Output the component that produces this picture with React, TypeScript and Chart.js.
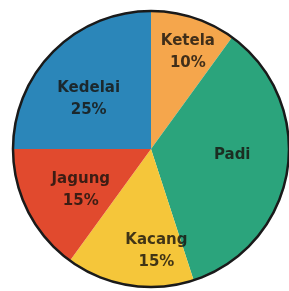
import React, { useEffect, useRef } from "react";
import { Chart, registerables } from "chart.js";

Chart.register(...registerables);

const categories = ["Ketela", "Padi", "Kacang", "Jagung", "Kedelai"];
const values = [10, 35, 15, 15, 25];
const percentLabels = ["10%", "", "15%", "15%", "25%"];
const colors = ["#F5A64C", "#2BA47C", "#F5C63A", "#E14A2E", "#2B86B9"];

const labelPlugin = {
  id: "sliceLabels",
  afterDatasetsDraw(chart: any, _args: any, opts: any) {
    const meta = chart.getDatasetMeta(0);
    const ctx = chart.ctx;
    const arcs = meta.data;
    if (!arcs.length) return;
    const a0 = arcs[0];
    ctx.save();
    ctx.beginPath();
    ctx.arc(a0.x, a0.y, a0.outerRadius, 0, Math.PI * 2);
    ctx.lineWidth = 2.5;
    ctx.strokeStyle = "#1a1a1a";
    ctx.stroke();
    ctx.restore();

    ctx.save();
    ctx.font = opts.font;
    ctx.textAlign = "center";
    ctx.textBaseline = "middle";
    ctx.fillStyle = opts.color;
    arcs.forEach((arc: any, i: number) => {
      const mid = (arc.startAngle + arc.endAngle) / 2 + (opts.angleShift[i] || 0);
      const r = arc.outerRadius * opts.radius[i];
      const x = arc.x + Math.cos(mid) * r;
      const y = arc.y + Math.sin(mid) * r;
      const lines = [chart.data.labels[i]];
      if (percentLabels[i]) lines.push(percentLabels[i]);
      const lh = opts.lineHeight;
      const start = y - ((lines.length - 1) * lh) / 2;
      lines.forEach((t: string, j: number) => ctx.fillText(t, x, start + j * lh));
    });
    ctx.restore();
  },
};

export default function App() {
  const ref = useRef<HTMLCanvasElement>(null);
  useEffect(() => {
    document.body.style.overflow = "hidden";
    const chart = new Chart(ref.current!, {
      type: "pie",
      data: {
        labels: categories,
        datasets: [
          {
            data: values,
            backgroundColor: colors,
            borderWidth: 0,
          },
        ],
      },
      options: {
        animation: false,
        responsive: false,
        layout: { padding: { left: 13, right: 31, top: 11, bottom: 13 } },
        plugins: {
          legend: { display: false },
          tooltip: { enabled: false },
          sliceLabels: {
            font: "bold 15px 'DejaVu Sans'",
            color: "rgba(25,20,15,0.82)",
            lineHeight: 22,
            radius: [0.75, 0.59, 0.74, 0.59, 0.58],
            angleShift: [0.05, -0.087, -0.21, -0.06, -0.107],
          },
        } as any,
      },
      plugins: [labelPlugin],
    });
    return () => chart.destroy();
  }, []);
  return (
    <div style={{ position: "fixed", left: 0, top: 0, width: 320, height: 300, background: "#fff" }}>
      <canvas ref={ref} width={320} height={300} />
    </div>
  );
}
